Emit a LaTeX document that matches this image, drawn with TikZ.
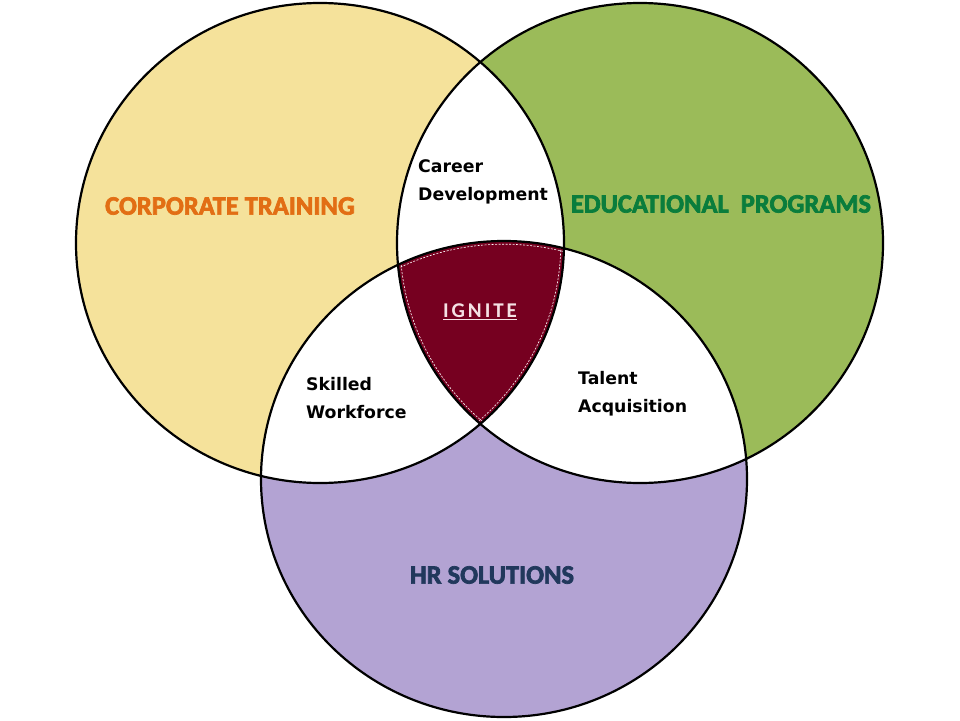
\documentclass[tikz,border=0pt]{standalone}
\usepackage{fontspec}
\setmainfont{Carlito}
\newfontfamily\labfont{DejaVu Sans}
\newcommand\heavytext[1]{\special{pdf:literal direct 2 Tr 0.7 w}#1\special{pdf:literal direct 0 Tr}}
\begin{document}
\begin{tikzpicture}[x=1pt,y=-1pt,
  outline/.style={draw=black,line width=2.2pt},
  inset/.style={draw=white,line width=0.6pt,dash pattern=on 2pt off 1.5pt},
  big/.style={inner sep=0pt,font=\fontsize{26.5}{30}\selectfont\bfseries},
  small/.style={inner sep=0pt,align=left,anchor=west,font=\labfont\fontsize{17.3}{28}\selectfont\bfseries,text=black}]
\definecolor{cyel}{RGB}{245,226,155}
\definecolor{cgrn}{RGB}{155,187,89}
\definecolor{cpur}{RGB}{179,163,211}
\definecolor{cmar}{RGB}{118,0,32}
\definecolor{corng}{RGB}{226,110,20}
\definecolor{cgtxt}{RGB}{10,125,60}
\definecolor{cnavy}{RGB}{33,56,92}
\definecolor{cpink}{RGB}{245,225,228}
\def\cA{(320,243) ellipse [x radius=244, y radius=240]}
\def\cB{(640,243) ellipse [x radius=243, y radius=240]}
\def\cC{(504,479) ellipse [x radius=243, y radius=238]}
\useasboundingbox (0,0) rectangle (960,720);
\fill[white] (0,0) rectangle (960,720);
% coloured discs
\fill[cyel] \cA;
\fill[cgrn] \cB;
\fill[cpur] \cC;
% pairwise overlaps in white
\begin{scope}\clip \cA; \fill[white] \cB; \end{scope}
\begin{scope}\clip \cA; \fill[white] \cC; \end{scope}
\begin{scope}\clip \cB; \fill[white] \cC; \end{scope}
% triple overlap
\begin{scope}
  \clip \cA; \clip \cB;
  \fill[cmar] \cC;
  \draw[inset] (320,243) ellipse [x radius=240.8, y radius=236.8];
  \draw[inset] (640,243) ellipse [x radius=239.8, y radius=236.8];
  \draw[inset] (504,479) ellipse [x radius=239.8, y radius=234.8];
\end{scope}
% outlines
\draw[outline] \cA;
\draw[outline] \cB;
\draw[outline] \cC;
% labels
\node[big,text=corng] (corp) at (230,206) {\heavytext{CORPORATE TRAINING}};
\node[big,text=cgtxt] (edu) at (721,204) {\heavytext{EDUCATIONAL\ \ PROGRAMS}};
\node[big,text=cnavy] (hr) at (492,575) {\heavytext{HR SOLUTIONS}};
\node[small] (career) at (418,182) {Career\\Development};
\node[small] (skilled) at (306,398) {Skilled\\Workforce};
\node[small] (talent) at (578,394) {Talent\\Acquisition};
\node[inner sep=0pt,text=cpink,font=\fontsize{21}{24}\selectfont\bfseries\addfontfeature{LetterSpace=14}] (ignite) at (480,312) {\underline{IGNITE}};
\end{tikzpicture}
\end{document}
